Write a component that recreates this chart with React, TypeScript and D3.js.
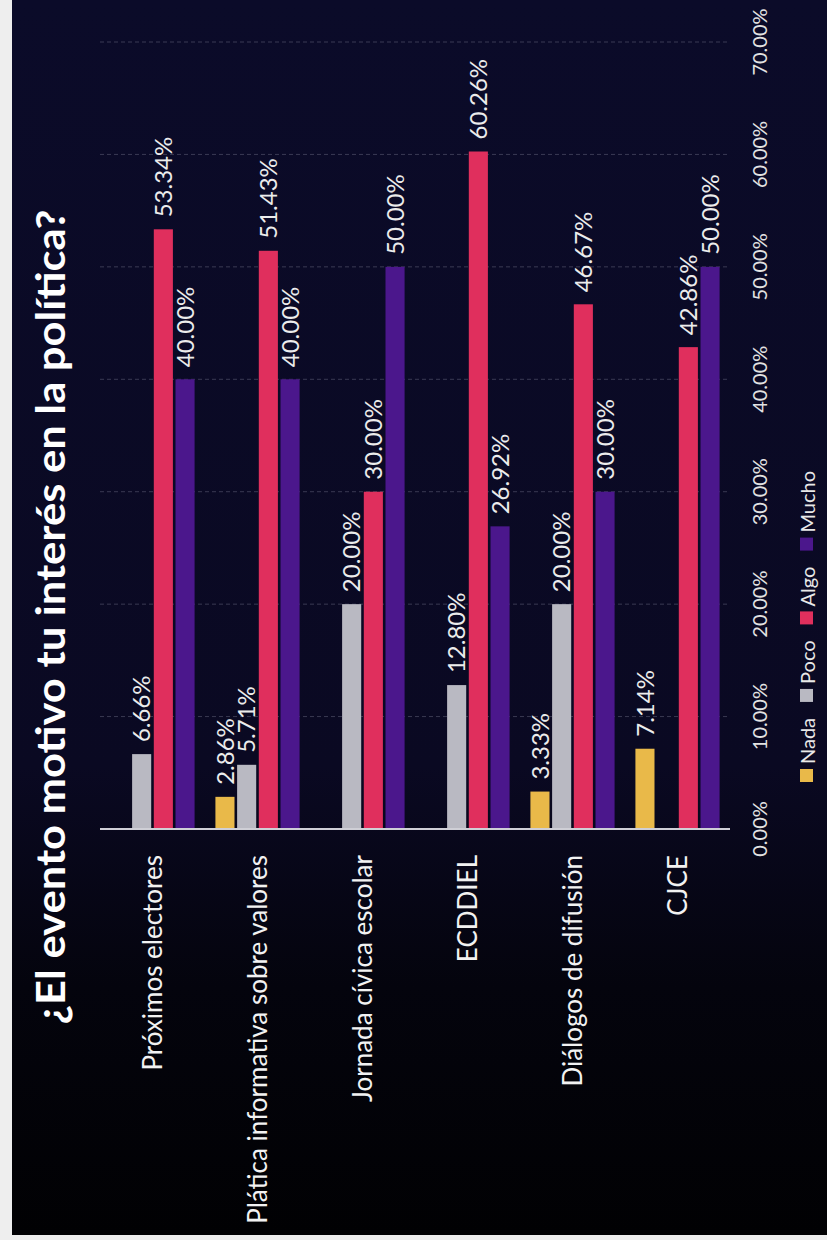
import * as d3 from "d3";
import { useEffect, useRef } from "react";

const categories = [
  "Próximos electores",
  "Plática informativa sobre valores",
  "Jornada cívica escolar",
  "ECDDIEL",
  "Diálogos de difusión",
  "CJCE"
];
const seriesNames = ["Nada", "Poco", "Algo", "Mucho"];
const nadaValues = [0, 2.86, 0, 0, 3.33, 7.14];
const pocoValues = [6.66, 5.71, 20.0, 12.8, 20.0, 0];
const algoValues = [53.34, 51.43, 30.0, 60.26, 46.67, 42.86];
const muchoValues = [40.0, 40.0, 50.0, 26.92, 30.0, 50.0];
const valueTicks = [0, 10, 20, 30, 40, 50, 60, 70];
const chartTitle = "¿El evento motivo tu interés en la política?";

const seriesColors = ["#e9b949", "#b9b9c2", "#e02f5d", "#4b178c"];

const width = 827;
const height = 1240;
const baseY = 829;
const topY = 42;
const plotLeft = 100;
const plotRight = 730;
const font = "Lato, 'Open Sans', sans-serif";

function App() {
  const svgRef = useRef<SVGSVGElement | null>(null);

  useEffect(() => {
    const svg = d3.select(svgRef.current);
    svg.selectAll("*").remove();

    const valuesBySeries = [nadaValues, pocoValues, algoValues, muchoValues];

    const defs = svg.append("defs");
    const grad = defs
      .append("linearGradient")
      .attr("id", "bg")
      .attr("x1", 0)
      .attr("y1", 0)
      .attr("x2", 0)
      .attr("y2", 1);
    grad.append("stop").attr("offset", 0).attr("stop-color", "#0b0b29");
    grad.append("stop").attr("offset", 0.62).attr("stop-color", "#0a0922");
    grad.append("stop").attr("offset", 0.8).attr("stop-color", "#04040d");
    grad.append("stop").attr("offset", 1).attr("stop-color", "#010103");

    svg.append("rect").attr("width", width).attr("height", height).attr("fill", "#eeeeee");
    svg
      .append("rect")
      .attr("x", 12)
      .attr("y", 0)
      .attr("width", width - 12)
      .attr("height", 1235)
      .attr("fill", "url(#bg)");

    const x = d3.scaleBand<string>().domain(categories).range([plotLeft, plotRight]).padding(0);
    const xInner = d3
      .scaleBand<string>()
      .domain(seriesNames)
      .range([0, x.bandwidth()])
      .paddingInner(0.12)
      .paddingOuter(0.48);
    const y = d3.scaleLinear().domain([0, 70]).range([baseY, topY]);
    const fmt = d3.format(".2f");

    // gridlines
    svg
      .append("g")
      .selectAll("line")
      .data(valueTicks.filter((t) => t > 0))
      .join("line")
      .attr("x1", plotLeft)
      .attr("x2", plotRight)
      .attr("y1", (d) => y(d))
      .attr("y2", (d) => y(d))
      .attr("stroke", "#5a5a72")
      .attr("stroke-width", 1)
      .attr("stroke-dasharray", "4,3")
      .attr("opacity", 0.6);

    // bars
    const groups = svg
      .append("g")
      .selectAll("g")
      .data(categories)
      .join("g")
      .attr("transform", (d) => `translate(${x(d)},0)`);

    groups.each(function (cat, ci) {
      const g = d3.select(this);
      seriesNames.forEach((s, si) => {
        const v = valuesBySeries[si][ci];
        if (!v) return;
        const bx = xInner(s) as number;
        const bw = xInner.bandwidth();
        g.append("rect")
          .attr("x", bx)
          .attr("y", y(v))
          .attr("width", bw)
          .attr("height", baseY - y(v))
          .attr("fill", seriesColors[si]);
        g.append("text")
          .attr("transform", `translate(${bx + bw / 2},${y(v) - 12}) rotate(-90)`)
          .attr("dy", "0.36em")
          .attr("fill", "#ececec")
          .attr("font-family", font)
          .attr("font-size", 24)
          .text(`${fmt(v)}%`);
      });
    });

    // baseline
    svg
      .append("line")
      .attr("x1", plotLeft)
      .attr("x2", plotRight)
      .attr("y1", baseY)
      .attr("y2", baseY)
      .attr("stroke", "#cfcfd6")
      .attr("stroke-width", 2);

    // value axis labels
    svg
      .append("g")
      .selectAll("text")
      .data(valueTicks)
      .join("text")
      .attr("transform", (d) => `translate(767,${y(d)}) rotate(-90)`)
      .attr("text-anchor", "middle")
      .attr("fill", "#e2e2e2")
      .attr("font-family", font)
      .attr("font-size", 20)
      .text((d) => `${fmt(d)}%`);

    // category labels
    svg
      .append("g")
      .selectAll("text")
      .data(categories)
      .join("text")
      .attr("transform", (d) => `translate(${(x(d) as number) + x.bandwidth() / 2},855) rotate(-90)`)
      .attr("text-anchor", "end")
      .attr("dy", "0.36em")
      .attr("fill", "#f2f2f2")
      .attr("font-family", font)
      .attr("font-size", 26)
      .text((d) => d);

    // title
    svg
      .append("text")
      .attr("transform", `translate(65,${617}) rotate(-90)`)
      .attr("text-anchor", "middle")
      .attr("fill", "#ffffff")
      .attr("font-family", font)
      .attr("font-weight", 700)
      .attr("font-size", 40)
      .attr("textLength", 815)
      .attr("lengthAdjust", "spacingAndGlyphs")
      .text(chartTitle);

    // legend
    const legend = svg.append("g");
    let cur = 782;
    seriesNames.forEach((s, si) => {
      legend
        .append("rect")
        .attr("x", 800)
        .attr("y", cur - 13)
        .attr("width", 13)
        .attr("height", 13)
        .attr("fill", seriesColors[si]);
      const t = legend
        .append("text")
        .attr("transform", `translate(815,${cur - 18}) rotate(-90)`)
        .attr("fill", "#e8e8e8")
        .attr("font-family", font)
        .attr("font-size", 20)
        .text(s);
      const len = (t.node() as SVGTextElement).getComputedTextLength();
      cur = cur - 18 - len - 16;
    });
  }, []);

  return (
    <>
      <style>{`html, body { margin: 0; padding: 0; overflow: hidden; }`}</style>
      <svg
        ref={svgRef}
        width={width}
        height={height}
        style={{ position: "fixed", left: 0, top: 0, display: "block" }}
      />
    </>
  );
}

export default App;
